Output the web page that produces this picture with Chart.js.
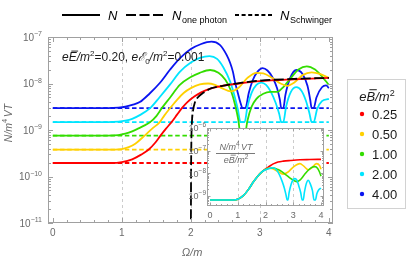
<!DOCTYPE html>
<html><head><meta charset="utf-8">
<script src="https://cdn.jsdelivr.net/npm/chart.js@4.4.0/dist/chart.umd.min.js"></script>
<style>
html,body{margin:0;padding:0;background:#fff;}
#wrap{position:relative;width:407px;height:260px;overflow:hidden;}
#main{position:absolute;left:0;top:0;}
#inset{position:absolute;left:180px;top:118px;}
</style></head><body>
<div id="wrap"><canvas id="main" width="407" height="260"></canvas><canvas id="inset" width="150" height="106"></canvas></div>
<script>
// ---------- DATA (values are log10 of N/m^4VT) ----------
const bLabels = ['0.25','0.50','1.00','2.00','4.00'];
const colors = ['#ff0000','#ffd000','#33dd00','#00e5ff','#0a14f0'];
const logSchwinger = [-9.71,-9.42,-9.12,-8.83,-8.53];

const omegaRed = [0,0.85,1.0,1.15,1.28,1.39,1.48,1.56,1.64,1.72,1.8,1.87,1.95,2.05,2.15,2.28,2.45,2.7,3.0,3.5,4.0];
const logRed   = [-9.71,-9.71,-9.69,-9.63,-9.53,-9.42,-9.28,-9.12,-8.97,-8.83,-8.67,-8.53,-8.4,-8.28,-8.19,-8.11,-8.05,-8.0,-7.95,-7.91,-7.88];

const omegaYellow = [0,0.9,1.0,1.1,1.2,1.33,1.44,1.55,1.62,1.7,1.8,1.9,2.0,2.13,2.25,2.35,2.45,2.58,2.7,2.82,2.95,3.05,3.18,3.3,3.4,3.5,3.62,3.75,3.88,4.0];
const logYellow   = [-9.42,-9.42,-9.41,-9.37,-9.29,-9.12,-8.97,-8.83,-8.68,-8.53,-8.35,-8.2,-8.1,-8.02,-8.0,-8.03,-8.1,-8.17,-8.08,-7.88,-7.77,-7.78,-7.88,-8.0,-8.05,-7.98,-7.82,-7.76,-7.8,-7.88];

const omegaGreen = [0,0.8,0.95,1.05,1.15,1.25,1.33,1.41,1.5,1.58,1.7,1.84,2.0,2.13,2.28,2.4,2.5,2.58,2.64,2.69,2.72,2.78,2.82,2.88,2.95,3.05,3.15,3.25,3.35,3.45,3.56,3.68,3.8,3.9,4.0];
const logGreen   = [-9.12,-9.12,-9.11,-9.08,-9.03,-8.96,-8.9,-8.83,-8.7,-8.53,-8.3,-8.03,-7.86,-7.77,-7.71,-7.77,-7.92,-8.15,-8.45,-8.8,-9.12,-9.12,-8.8,-8.5,-8.33,-8.22,-8.18,-8.18,-8.06,-7.88,-7.7,-7.63,-7.7,-7.85,-8.03];

const omegaCyan = [0,0.8,0.95,1.05,1.15,1.26,1.41,1.55,1.7,1.84,2.0,2.13,2.27,2.38,2.47,2.57,2.63,2.68,2.72,2.78,2.82,2.88,2.95,3.02,3.09,3.16,3.23,3.28,3.31,3.34,3.38,3.45,3.53,3.6,3.67,3.72,3.75,3.78,3.83,3.9,4.0];
const logCyan   = [-8.83,-8.83,-8.82,-8.8,-8.76,-8.68,-8.53,-8.29,-8.02,-7.75,-7.55,-7.45,-7.41,-7.47,-7.65,-7.96,-8.25,-8.55,-8.83,-8.83,-8.5,-8.2,-8.03,-7.98,-8.03,-8.18,-8.42,-8.65,-8.83,-8.83,-8.5,-8.18,-8.08,-8.15,-8.38,-8.65,-8.83,-8.83,-8.55,-8.38,-8.33];

const omegaBlue = [0,0.8,0.95,1.05,1.15,1.26,1.4,1.55,1.7,1.84,2.0,2.15,2.3,2.42,2.52,2.57,2.61,2.64,2.68,2.72,2.75,2.79,2.84,2.9,2.97,3.04,3.11,3.18,3.25,3.29,3.31,3.34,3.37,3.44,3.53,3.62,3.69,3.73,3.75,3.78,3.82,3.9,3.96,4.0];
const logBlue   = [-8.53,-8.53,-8.52,-8.5,-8.46,-8.4,-8.22,-7.99,-7.7,-7.46,-7.26,-7.15,-7.1,-7.17,-7.39,-7.56,-7.75,-7.97,-8.2,-8.42,-8.53,-8.53,-8.2,-7.92,-7.74,-7.67,-7.72,-7.86,-8.1,-8.35,-8.53,-8.53,-8.25,-7.88,-7.71,-7.8,-8.05,-8.35,-8.53,-8.53,-8.3,-8.08,-8.04,-8.1];

const omegaOnePhoton = [2.0,2.003,2.008,2.015,2.03,2.06,2.1,2.18,2.3,2.46,2.7,3.0,3.5,4.0];
const logOnePhoton   = [-11.5,-10,-9.2,-8.85,-8.6,-8.4,-8.3,-8.2,-8.1,-8.05,-7.99,-7.94,-7.9,-7.88];

// inset: N/(m^4VT) / (eB/m^2)
const insOmegaRed = [0,0.85,1.0,1.2,1.4,1.56,1.72,1.86,2.0,2.1,2.2,2.3,2.45,2.64,2.9,3.24,3.6,4.0];
const insLogRed   = [-9.17,-9.17,-9.14,-8.98,-8.68,-8.38,-8.12,-7.94,-7.8,-7.72,-7.64,-7.57,-7.5,-7.46,-7.43,-7.4,-7.39,-7.38];
const insOmegaYellow = [0,0.85,1.0,1.2,1.4,1.56,1.72,1.86,2.0,2.1,2.22,2.35,2.5,2.64,2.8,3.0,3.24,3.38,3.54,3.64,3.84,3.95,4.0];
const insLogYellow   = [-9.17,-9.17,-9.14,-8.98,-8.68,-8.38,-8.12,-7.94,-7.82,-7.77,-7.78,-7.85,-7.95,-8.03,-7.95,-7.72,-7.57,-7.68,-7.84,-7.78,-7.57,-7.66,-7.82];
const insOmegaGreen = [0,0.85,1.0,1.2,1.4,1.56,1.72,1.86,2.0,2.1,2.28,2.45,2.6,2.75,2.9,3.05,3.12,3.25,3.4,3.55,3.7,3.78,3.88,3.95,4.0];
const insLogGreen   = [-9.17,-9.17,-9.14,-8.98,-8.68,-8.38,-8.12,-7.94,-7.83,-7.78,-7.76,-7.83,-7.93,-8.07,-8.22,-8.33,-8.36,-8.28,-8.06,-7.85,-7.72,-7.7,-7.78,-7.95,-8.12];
const insOmegaCyan = [0,0.85,1.0,1.2,1.4,1.56,1.72,1.86,2.0,2.1,2.2,2.28,2.4,2.5,2.6,2.68,2.74,2.78,2.81,2.85,2.93,3.0,3.06,3.13,3.2,3.27,3.32,3.36,3.4,3.47,3.54,3.61,3.69,3.75,3.8,3.85,3.92,4.0];
const insLogCyan   = [-9.17,-9.17,-9.14,-8.98,-8.68,-8.38,-8.12,-7.94,-7.84,-7.79,-7.76,-7.75,-7.85,-8.05,-8.35,-8.65,-8.95,-9.17,-9.17,-8.85,-8.45,-8.28,-8.23,-8.3,-8.55,-8.85,-9.17,-9.17,-8.85,-8.45,-8.3,-8.45,-8.75,-9.17,-9.17,-8.9,-8.72,-8.65];

const xTickValues = [0,1,2,3,4];
const xTickLabels = ['0','1','2','3','4'];
const yTickExps = [-11,-10,-9,-8,-7];
const insYTickExps = [-9,-8,-7,-6];
const gridOmega = [1,2,3];

// ---------- helpers ----------
const FONT='"Liberation Sans", Arial, Helvetica, sans-serif';
const TXT='#6a6a6a', FRAME='#a0a0a0', GRID='#cccccc';
function fnt(s,i){return (i?'italic ':'')+s+'px '+FONT;}
function pts(xs,ls){return xs.map((x,i)=>({x:x,y:Math.pow(10,ls[i])}));}
function rich(ctx,x,y,parts,align,color){
  let w=0;
  for(const p of parts){ctx.font=fnt(p.s,p.i);p._w=ctx.measureText(p.t).width;w+=p._w+(p.k||0);}
  let cx=align==='center'?x-w/2:(align==='right'?x-w:x);
  const base=y+0.36*parts[0].s;
  ctx.fillStyle=color;ctx.strokeStyle=color;ctx.textAlign='left';ctx.textBaseline='alphabetic';
  for(const p of parts){
    ctx.font=fnt(p.s,p.i);
    const b=base-(p.dy||0);
    ctx.fillText(p.t,cx,b);
    if(p.o){
      const oy=b-0.72*p.s-1.6;
      ctx.save();ctx.setLineDash([]);ctx.lineWidth=Math.max(0.8,p.s/13);
      ctx.beginPath();ctx.moveTo(cx+0.22*p.s,oy);ctx.lineTo(cx+p._w+0.12*p.s,oy);ctx.stroke();ctx.restore();
    }
    cx+=p._w+(p.k||0);
  }
}
function frameAndTicks(ctx,a,x,y,yExpMin,yExpMax,maj,minr){
  ctx.save();ctx.setLineDash([]);ctx.strokeStyle=FRAME;ctx.lineWidth=1;
  ctx.strokeRect(Math.round(a.left)+0.5,Math.round(a.top)+0.5,Math.round(a.right-a.left)-1,Math.round(a.bottom-a.top)-1);
  ctx.beginPath();
  for(let k=0;k<=20;k++){
    const px=Math.round(x.getPixelForValue(k*0.2))+0.5;const len=(k%5===0)?maj:minr;
    ctx.moveTo(px,a.bottom);ctx.lineTo(px,a.bottom-len);ctx.moveTo(px,a.top);ctx.lineTo(px,a.top+len);
  }
  for(let e=yExpMin;e<=yExpMax;e++){
    for(let m=1;m<10;m++){
      const v=m*Math.pow(10,e);
      if(v>y.max*1.0001||v<y.min*0.9999) continue;
      const py=Math.round(y.getPixelForValue(v))+0.5;const len=m===1?maj:minr;
      ctx.moveTo(a.left,py);ctx.lineTo(a.left+len,py);ctx.moveTo(a.right,py);ctx.lineTo(a.right-len,py);
    }
  }
  ctx.stroke();ctx.restore();
}
function vgrid(ctx,a,x){
  ctx.save();ctx.strokeStyle=GRID;ctx.lineWidth=1;ctx.setLineDash([3,3]);
  for(const g of gridOmega){const px=Math.round(x.getPixelForValue(g))+0.5;ctx.beginPath();ctx.moveTo(px,a.top);ctx.lineTo(px,a.bottom);ctx.stroke();}
  ctx.restore();
}

// ---------- main chart ----------
const solidSets=[[omegaRed,logRed],[omegaYellow,logYellow],[omegaGreen,logGreen],[omegaCyan,logCyan],[omegaBlue,logBlue]];
const mainDatasets=[];
mainDatasets.push({label:'N one photon',data:pts(omegaOnePhoton,logOnePhoton),borderColor:'#000',borderWidth:1.8,borderDash:[10,3.5],pointRadius:0,fill:false,cubicInterpolationMode:'monotone'});
solidSets.forEach((s,i)=>mainDatasets.push({label:'N '+bLabels[i],data:pts(s[0],s[1]),borderColor:colors[i],borderWidth:1.8,pointRadius:0,fill:false,cubicInterpolationMode:'monotone'}));
logSchwinger.forEach((l,i)=>mainDatasets.push({label:'NS '+bLabels[i],data:pts([0,4],[l,l]),borderColor:colors[i],borderWidth:1.8,borderDash:[4.5,2.7],pointRadius:0,fill:false}));

const mainDecor={
  id:'mainDecor',
  beforeDatasetsDraw(chart){const {ctx,chartArea:a,scales:{x}}=chart;vgrid(ctx,a,x);},
  afterDatasetsDraw(chart){
    const {ctx,chartArea:a,scales:{x,y}}=chart;
    frameAndTicks(ctx,a,x,y,-11,-7,5,3);
    // tick labels
    xTickValues.forEach((v,i)=>rich(ctx,x.getPixelForValue(v),232,[{t:xTickLabels[i],s:10}],'center',TXT));
    yTickExps.forEach(e=>rich(ctx,42,y.getPixelForValue(Math.pow(10,e)),[{t:'10',s:10},{t:'\u2212'+Math.abs(e),s:7,dy:4.5}],'right',TXT));
    // axis titles
    rich(ctx,192,252,[{t:'\u03A9/m',s:11,i:true}],'center',TXT);
    ctx.save();ctx.translate(8,123);ctx.rotate(-Math.PI/2);
    rich(ctx,0,0,[{t:'N/m',s:10.5,i:true},{t:'4',s:7.5,dy:4.5,k:1.5},{t:'VT',s:10.5,i:true}],'center',TXT);
    ctx.restore();
    // annotation
    rich(ctx,62,57,[{t:'e',s:12,i:true},{t:'E',s:12,i:true,o:true},{t:'/m',s:12,i:true},{t:'2',s:8,dy:5},{t:'=0.20, ',s:12},
      {t:'e',s:12,i:true},{t:'\u2130',s:12,i:true},{t:'0',s:8,dy:-3},{t:'/m',s:12,i:true},{t:'2',s:8,dy:5},{t:'=0.001',s:12}],'left','#1a1a1a');
    // top legend
    ctx.save();ctx.strokeStyle='#000';ctx.lineWidth=2;
    ctx.setLineDash([]);ctx.beginPath();ctx.moveTo(62,15);ctx.lineTo(100,15);ctx.stroke();
    ctx.setLineDash([10,3.5]);ctx.beginPath();ctx.moveTo(126,15);ctx.lineTo(163,15);ctx.stroke();
    ctx.setLineDash([4,2.6]);ctx.beginPath();ctx.moveTo(235,15);ctx.lineTo(272,15);ctx.stroke();
    ctx.restore();
    rich(ctx,108,15,[{t:'N',s:13,i:true}],'left','#000');
    rich(ctx,172,15,[{t:'N',s:13,i:true,k:0.5},{t:'one photon',s:9,dy:-3}],'left','#000');
    rich(ctx,280,15,[{t:'N',s:13,i:true,k:0.5},{t:'Schwinger',s:9,dy:-3}],'left','#000');
    // right legend
    ctx.save();ctx.strokeStyle='#d2d2d2';ctx.lineWidth=1;ctx.setLineDash([]);ctx.strokeRect(347.5,79.5,58,129);ctx.restore();
    rich(ctx,377,96,[{t:'e',s:13,i:true},{t:'B',s:13,i:true,o:true},{t:'/m',s:13,i:true},{t:'2',s:9,dy:5}],'center','#1a1a1a');
    const ly=[114,134,154,174,194];
    bLabels.forEach((b,i)=>{
      ctx.save();ctx.fillStyle=colors[i];ctx.beginPath();ctx.arc(362,ly[i],2.2,0,Math.PI*2);ctx.fill();ctx.restore();
      rich(ctx,372,ly[i],[{t:b,s:13}],'left','#1a1a1a');
    });
  }
};

new Chart(document.getElementById('main'),{
  type:'line',
  data:{datasets:mainDatasets},
  options:{
    responsive:false,animation:false,devicePixelRatio:1,
    layout:{padding:{left:48,top:37,right:74,bottom:37}},
    scales:{x:{type:'linear',min:-0.07,max:4.06,display:false},y:{type:'logarithmic',min:1e-11,max:1e-7,display:false}},
    plugins:{legend:{display:false},tooltip:{enabled:false}},
    elements:{point:{radius:0}}
  },
  plugins:[mainDecor]
});

// ---------- inset chart ----------
const insSets=[[insOmegaCyan,insLogCyan,3],[insOmegaGreen,insLogGreen,2],[insOmegaYellow,insLogYellow,1],[insOmegaRed,insLogRed,0]];
const insDatasets=insSets.map(s=>({label:'inset '+bLabels[s[2]],data:pts(s[0],s[1]),borderColor:colors[s[2]],borderWidth:1.6,pointRadius:0,fill:false,cubicInterpolationMode:'monotone'}));
const insetDecor={
  id:'insetDecor',
  beforeDatasetsDraw(chart){
    const {ctx,chartArea:a,scales:{x}}=chart;
    ctx.save();ctx.fillStyle='#fff';ctx.fillRect(a.left,a.top,a.right-a.left,a.bottom-a.top);ctx.restore();
    vgrid(ctx,a,x);
  },
  afterDatasetsDraw(chart){
    const {ctx,chartArea:a,scales:{x,y}}=chart;
    frameAndTicks(ctx,a,x,y,-10,-6,3.5,2);
    xTickValues.forEach((v,i)=>rich(ctx,x.getPixelForValue(v),97,[{t:xTickLabels[i],s:9}],'center',TXT));
    insYTickExps.forEach(e=>rich(ctx,26,y.getPixelForValue(Math.pow(10,e)),[{t:'10',s:9},{t:'\u2212'+Math.abs(e),s:6.5,dy:4}],'right',TXT));
    rich(ctx,56,28.5,[{t:'N/m',s:9,i:true},{t:'4',s:6.5,dy:4,k:1.2},{t:'VT',s:9,i:true}],'center',TXT);
    ctx.save();ctx.strokeStyle=TXT;ctx.lineWidth=0.9;ctx.setLineDash([]);ctx.beginPath();ctx.moveTo(36,35.5);ctx.lineTo(75,35.5);ctx.stroke();ctx.restore();
    rich(ctx,56,42,[{t:'e',s:9,i:true},{t:'B',s:9,i:true,o:true},{t:'/m',s:9,i:true},{t:'2',s:6.5,dy:4}],'center',TXT);
  }
};
new Chart(document.getElementById('inset'),{
  type:'line',
  data:{datasets:insDatasets},
  options:{
    responsive:false,animation:false,devicePixelRatio:1,
    layout:{padding:{left:27,top:10,right:6,bottom:18}},
    scales:{x:{type:'linear',min:-0.108,max:4.108,display:false},y:{type:'logarithmic',min:Math.pow(10,-9.435),max:1e-6,display:false}},
    plugins:{legend:{display:false},tooltip:{enabled:false}},
    elements:{point:{radius:0}}
  },
  plugins:[insetDecor]
});
</script>
</body></html>
